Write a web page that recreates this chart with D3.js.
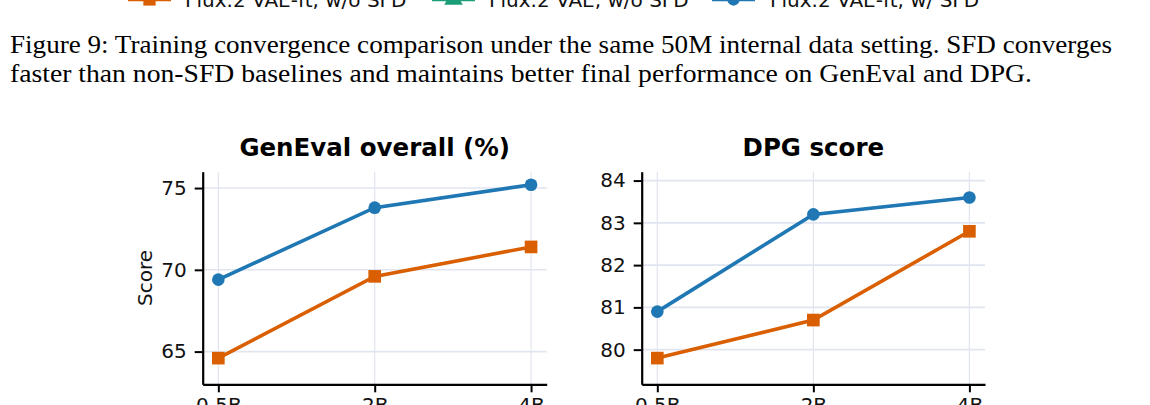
<!DOCTYPE html>
<html>
<head>
<meta charset="utf-8">
<script src="https://cdn.jsdelivr.net/npm/d3@7"></script>
<style>
  html, body { margin: 0; padding: 0; background: #fff; }
  svg { display: block; }
  .tick text { font-family: "DejaVu Sans", sans-serif; fill: #111; }
</style>
</head>
<body>
<script>
// data
var steps = ['0.5B', '2B', '4B'];
var genevalFt = [64.6, 69.6, 71.4];      // Flux.2 VAE-ft, w/o SFD
var genevalSfd = [69.4, 73.8, 75.2];     // Flux.2 VAE-ft, w/ SFD
var dpgFt = [79.8, 80.7, 82.8];
var dpgSfd = [80.9, 83.2, 83.6];
var genevalTicks = [65, 70, 75];
var dpgTicks = [80, 81, 82, 83, 84];
var legendNames = ['Flux.2 VAE-ft, w/o SFD', 'Flux.2 VAE, w/o SFD', 'Flux.2 VAE-ft, w/ SFD'];
var captionLines = [
    'Figure 9: Training convergence comparison under the same 50M internal data setting. SFD converges',
    'faster than non-SFD baselines and maintains better final performance on GenEval and DPG.'
];

var orange = '#d95f02', green = '#1b9e77', blue = '#1f77b4';
var gridColor = '#e1e5ef';

var svg = d3.select('body').append('svg')
    .attr('width', 1150)
    .attr('height', 405);

// legend (cut at top edge)
var legendX = [128, 432, 712];
var legendColors = [orange, green, blue];
var legendMarkers = ['square', 'triangle', 'circle'];
legendNames.forEach(function(name, i){
    var g = svg.append('g').attr('transform', 'translate(' + legendX[i] + ',-0.5)');
    g.append('line')
        .attr('x1', 0).attr('x2', 43)
        .attr('stroke', legendColors[i]).attr('stroke-width', 3.5);
    var sym = legendMarkers[i] == 'square' ? d3.symbolSquare :
              legendMarkers[i] == 'triangle' ? d3.symbolTriangle : d3.symbolCircle;
    g.append('path')
        .attr('d', d3.symbol().type(sym).size(legendMarkers[i] == 'circle' ? 120 : 150)())
        .attr('transform', 'translate(21.5,0)')
        .attr('fill', legendColors[i]);
    g.append('text')
        .attr('x', 57 + (i == 2 ? 1 : 0))
        .attr('y', 7)
        .style('font-family', '"DejaVu Sans", sans-serif')
        .style('font-size', '20px')
        .attr('fill', '#111')
        .text(name);
});

// caption
svg.selectAll('.caption')
    .data(captionLines)
    .enter()
    .append('text')
    .attr('class', 'caption')
    .attr('x', 10)
    .attr('y', function(d, i){ return 53 + i * 29; })
    .attr('textLength', function(d, i){ return i == 0 ? 1102 : 1022; })
    .attr('lengthAdjust', 'spacingAndGlyphs')
    .style('font-family', '"Liberation Serif", "Times New Roman", serif')
    .style('font-size', '26px')
    .attr('fill', '#000')
    .text(function(d){ return d; });

var drawPanel = function(opt){
    var x = d3.scalePoint()
        .domain(steps)
        .range([opt.left, opt.right])
        .padding(0.1);
    var y = d3.scaleLinear()
        .domain(opt.ylim)
        .range([384.3, 171.7]);

    var g = svg.append('g');

    // grid
    g.selectAll('.hgrid')
        .data(opt.ticks)
        .enter()
        .append('line')
        .attr('x1', opt.left).attr('x2', opt.right)
        .attr('y1', function(d){ return y(d); })
        .attr('y2', function(d){ return y(d); })
        .attr('stroke', gridColor).attr('stroke-width', 1.6);
    g.selectAll('.vgrid')
        .data(steps)
        .enter()
        .append('line')
        .attr('x1', function(d){ return x(d); })
        .attr('x2', function(d){ return x(d); })
        .attr('y1', y.range()[0]).attr('y2', y.range()[1])
        .attr('stroke', gridColor).attr('stroke-width', 1.2);

    // axes
    var yAxis = d3.axisLeft(y).tickValues(opt.ticks).tickFormat(d3.format('d'))
        .tickSize(8).tickSizeOuter(0).tickPadding(8);
    var xAxis = d3.axisBottom(x).tickSize(8).tickSizeOuter(0).tickPadding(6);

    var ya = g.append('g')
        .attr('transform', 'translate(' + opt.left + ',0)')
        .call(yAxis);
    var xa = g.append('g')
        .attr('transform', 'translate(0,' + y.range()[0] + ')')
        .call(xAxis);
    [ya, xa].forEach(function(a){
        a.select('.domain').attr('stroke', '#000').attr('stroke-width', 2.2);
        a.selectAll('.tick line').attr('stroke', '#000').attr('stroke-width', 2);
        a.selectAll('.tick text').style('font-size', '20px');
    });

    // lines
    var line = d3.line()
        .x(function(d, i){ return x(steps[i]); })
        .y(function(d){ return y(d); });

    [[opt.ft, orange, 'square'], [opt.sfd, blue, 'circle']].forEach(function(s){
        g.append('path')
            .attr('d', line(s[0]))
            .attr('fill', 'none')
            .attr('stroke', s[1])
            .attr('stroke-width', 3.6);
        g.selectAll('.pt')
            .data(s[0])
            .enter()
            .append('path')
            .attr('d', d3.symbol().type(s[2] == 'square' ? d3.symbolSquare : d3.symbolCircle)
                .size(s[2] == 'square' ? 160 : 125)())
            .attr('transform', function(d, i){ return 'translate(' + x(steps[i]) + ',' + y(d) + ')'; })
            .attr('fill', s[1]);
    });

    // title
    g.append('text')
        .attr('x', (opt.left + opt.right) / 2)
        .attr('y', 156)
        .attr('text-anchor', 'middle')
        .style('font-family', '"DejaVu Sans", sans-serif')
        .style('font-weight', 'bold')
        .style('font-size', '24.5px')
        .attr('fill', '#000')
        .text(opt.title);

    if(opt.ylabel){
        g.append('text')
            .attr('transform', 'translate(152,' + ((y.range()[0] + y.range()[1]) / 2) + ') rotate(-90)')
            .attr('text-anchor', 'middle')
            .style('font-family', '"DejaVu Sans", sans-serif')
            .style('font-size', '20px')
            .attr('fill', '#111')
            .text(opt.ylabel);
    }
}

drawPanel({
    left: 202.7, right: 546.7, ylim: [63, 76], ticks: genevalTicks,
    ft: genevalFt, sfd: genevalSfd, title: 'GenEval overall (%)', ylabel: 'Score'
});
drawPanel({
    left: 641.7, right: 985, ylim: [79.18, 84.21], ticks: dpgTicks,
    ft: dpgFt, sfd: dpgSfd, title: 'DPG score'
});
</script>
</body>
</html>
